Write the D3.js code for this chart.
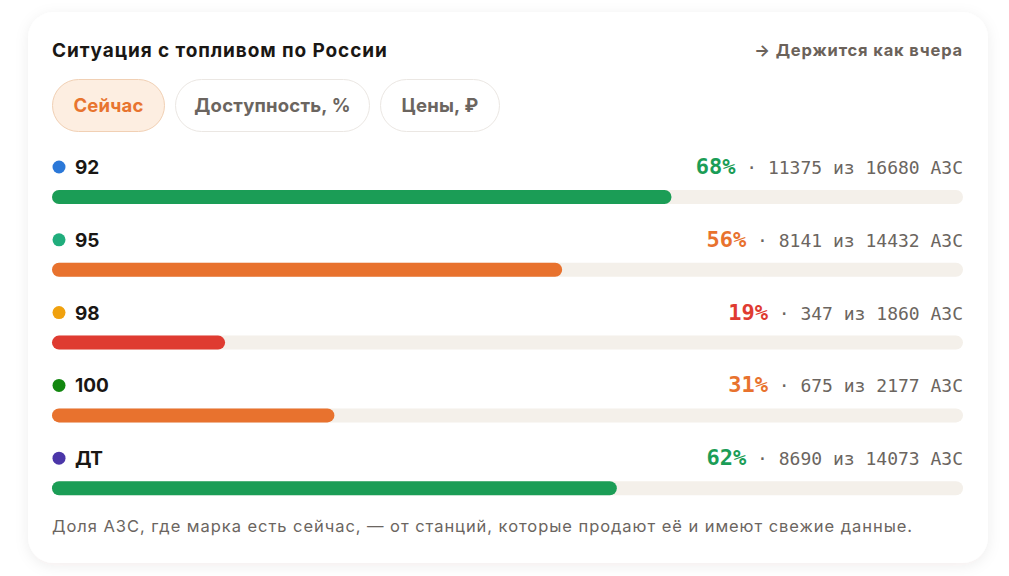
<!DOCTYPE html>
<html>
<head>
<meta charset="utf-8">
<script src="https://cdn.jsdelivr.net/npm/d3@7"></script>
<style>
  html, body { margin: 0; padding: 0; background: #fff; }
  svg { display: block; }
</style>
</head>
<body>
<div id="chart"></div>
<script>
    // data
    const fuels = ["92", "95", "98", "100", "ДТ"];
    const shares = [68, 56, 19, 31, 62];
    const available = [11375, 8141, 347, 675, 8690];
    const totals = [16680, 14432, 1860, 2177, 14073];
    const dotColors = ["#2b78d8", "#20ad7c", "#f0a10e", "#12870f", "#4b36a8"];
    const tabs = ["Сейчас", "Доступность, %", "Цены, ₽"];

    const width = 1009, height = 576;
    const left = 52, right = 963;
    const rowTop = 167, rowStep = 72.8;
    const sans = "Inter, 'Noto Sans', sans-serif";

    function shareColor(v) {
        if (v >= 60) return "#1b9d56";
        if (v >= 25) return "#e8722e";
        return "#df3b31";
    }

    const svg = d3.select("#chart")
        .append("svg")
        .attr("width", width)
        .attr("height", height);

    const defs = svg.append("defs");
    const shadow = defs.append("filter")
        .attr("id", "shadow")
        .attr("x", "-10%").attr("y", "-10%")
        .attr("width", "120%").attr("height", "120%");
    shadow.append("feDropShadow")
        .attr("dx", 0).attr("dy", 3)
        .attr("stdDeviation", 7)
        .attr("flood-color", "#3a2a10")
        .attr("flood-opacity", 0.07);

    // card
    svg.append("rect")
        .attr("x", 28).attr("y", 12)
        .attr("width", 960).attr("height", 551)
        .attr("rx", 26)
        .attr("fill", "#fff")
        .attr("filter", "url(#shadow)");

    svg.append("text")
        .attr("x", left).attr("y", 57)
        .attr("font-family", sans)
        .attr("font-weight", 700)
        .attr("font-size", 19)
        .attr("letter-spacing", 0.9)
        .attr("fill", "#1a1714")
        .text("Ситуация с топливом по России");

    svg.append("text")
        .attr("x", right).attr("y", 56)
        .attr("text-anchor", "end")
        .attr("font-family", sans)
        .attr("font-weight", 700)
        .attr("font-size", 16.5)
        .attr("letter-spacing", 0.85)
        .attr("fill", "#6b625a")
        .text("→ Держится как вчера");

    // tabs
    const tabX = [52, 175, 380];
    const tabW = [113, 195, 120];
    const tabG = svg.append("g")
        .selectAll("g")
        .data(tabs)
        .join("g")
        .attr("transform", (d, i) => `translate(${tabX[i]},79)`);

    tabG.append("rect")
        .attr("x", 0.5).attr("y", 0.5)
        .attr("width", (d, i) => tabW[i] - 1)
        .attr("height", 52)
        .attr("rx", 26)
        .attr("fill", (d, i) => i === 0 ? "#fdeee1" : "#fff")
        .attr("stroke", (d, i) => i === 0 ? "#f1d0b4" : "#ebe7e3");

    tabG.append("text")
        .attr("x", (d, i) => tabW[i] / 2)
        .attr("y", 33)
        .attr("text-anchor", "middle")
        .attr("font-family", sans)
        .attr("font-weight", 700)
        .attr("font-size", 18.5)
        .attr("letter-spacing", 0.2)
        .attr("fill", (d, i) => i === 0 ? "#e8742f" : "#6b6560")
        .text(d => d);

    // rows
    const x = d3.scaleLinear().domain([0, 100]).range([left, right]);
    const y = d3.scaleLinear().domain([0, 1]).range([rowTop, rowTop + rowStep]);
    const barH = 14;

    const rows = svg.append("g")
        .selectAll("g")
        .data(fuels.map((f, i) => ({ fuel: f, share: shares[i], avail: available[i], total: totals[i], dot: dotColors[i] })))
        .join("g")
        .attr("transform", (d, i) => `translate(0,${y(i)})`);

    rows.append("circle")
        .attr("cx", 59).attr("cy", 0)
        .attr("r", 6.5)
        .attr("fill", d => d.dot);

    rows.append("text")
        .attr("x", 75).attr("y", 7)
        .attr("font-family", sans)
        .attr("font-weight", 700)
        .attr("font-size", 19)
        .attr("fill", "#1a1714")
        .text(d => d.fuel);

    const info = rows.append("text")
        .attr("x", right).attr("y", 7)
        .attr("text-anchor", "end")
        .attr("font-family", "'DejaVu Sans Mono', 'Liberation Mono', monospace");

    info.append("tspan")
        .attr("font-size", 22)
        .attr("font-weight", 700)
        .attr("fill", d => shareColor(d.share))
        .text(d => d.share + "%");

    info.append("tspan")
        .attr("font-size", 18)
        .attr("fill", "#6b6560")
        .text(d => ` · ${d.avail} из ${d.total} АЗС`);

    rows.append("rect")
        .attr("x", left).attr("y", 23)
        .attr("width", right - left)
        .attr("height", barH)
        .attr("rx", barH / 2)
        .attr("fill", "#f4f0ea");

    rows.append("rect")
        .attr("x", left).attr("y", 23)
        .attr("width", d => x(d.share) - left)
        .attr("height", barH)
        .attr("rx", barH / 2)
        .attr("fill", d => shareColor(d.share));

    svg.append("text")
        .attr("x", left).attr("y", 532)
        .attr("font-family", sans)
        .attr("font-size", 16.5)
        .attr("letter-spacing", 0.95)
        .attr("fill", "#6b6560")
        .text("Доля АЗС, где марка есть сейчас, — от станций, которые продают её и имеют свежие данные.");
</script>
</body>
</html>
